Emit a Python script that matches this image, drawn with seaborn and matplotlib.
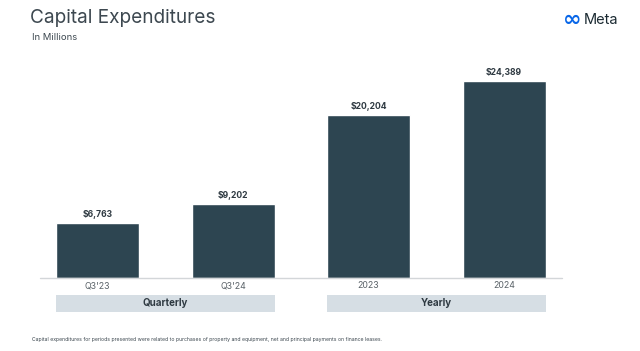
from __future__ import annotations

import matplotlib
matplotlib.use("Agg")
import matplotlib.pyplot as plt
import matplotlib.transforms as mtransforms
from matplotlib.patches import Rectangle
import seaborn as sns

categories = ["Q3'23", "Q3'24", "2023", "2024"]
capex = [6763, 9202, 20204, 24389]
value_labels = ["$6,763", "$9,202", "$20,204", "$24,389"]
groups = [("Quarterly", 0, 1), ("Yearly", 2, 3)]

W, H = 640, 351
BAR_COLOR = "#2d4551"
TEXT_DARK = "#2f3a42"
BAND_COLOR = "#d6dee4"


def fy(py: float) -> float:
    return 1 - py / H


def main() -> None:
    sns.set_theme(style="white")
    plt.rcParams["font.family"] = ["Inter", "DejaVu Sans"]

    fig = plt.figure(figsize=(W / 100, H / 100), dpi=100)
    fig.patch.set_facecolor("white")

    # axes span whole width; baseline sits at y=278 px
    ax = fig.add_axes([0, fy(278), 1, 278 / H])
    bar_w = 83 / 135.5
    sns.barplot(x=categories, y=capex, color=BAR_COLOR, saturation=1, width=bar_w, ax=ax)
    ax.set_xlim(-97.5 / 135.5, (W - 97.5) / 135.5)
    ax.set_ylim(0, 278 * 123.95)
    for s in ax.spines.values():
        s.set_visible(False)
    ax.set_yticks([])
    ax.set_xlabel("")
    ax.set_ylabel("")
    ax.tick_params(axis="x", length=0, pad=2.5, labelsize=6.3, labelcolor="#5a6268")
    ax.patch.set_alpha(0)

    x0 = -0.5 - 16 / 135.5 + (1 - bar_w) / 2
    x1 = 3.5 + 16 / 135.5 - (1 - bar_w) / 2
    ax.plot([x0, x1], [0, 0], color="#d3d6d9", lw=1, clip_on=False)

    for i, (v, lab) in enumerate(zip(capex, value_labels)):
        ax.annotate(lab, (i, v), xytext=(0, 3), textcoords="offset points",
                    ha="center", va="bottom", fontsize=6.2, fontweight="bold", color=TEXT_DARK)

    trans = mtransforms.blended_transform_factory(ax.transData, fig.transFigure)
    for name, a, b in groups:
        left = a - bar_w / 2
        right = b + bar_w / 2
        ax.add_patch(Rectangle((left, fy(312)), right - left, 17 / H, transform=trans,
                               facecolor=BAND_COLOR, edgecolor="none", clip_on=False))
        ax.text((left + right) / 2, fy(303.5), name, transform=trans, ha="center", va="center",
                fontsize=7, fontweight="bold", color=TEXT_DARK)

    fig.text(30 / W, fy(18), "Capital Expenditures", fontsize=13.7, color="#3d4850",
             ha="left", va="center")
    fig.text(32 / W, fy(37.5), "In Millions", fontsize=6.8, color="#3d4850",
             ha="left", va="center")
    fig.text(563 / W, fy(20), "\u221e", family="DejaVu Sans", fontsize=16, fontweight="bold",
             color="#0866e8", ha="left", va="center")
    fig.text(584 / W, fy(20.5), "Meta", fontsize=10.5, color="#1c2b33", ha="left", va="center")
    fig.text(32 / W, fy(339), "Capital expenditures for periods presented were related to purchases "
             "of property and equipment, net and principal payments on finance leases.",
             fontsize=3.7, color="#3d4850", ha="left", va="center")

    fig.savefig("out.png", dpi=100)
    plt.close(fig)


if __name__ == "__main__":
    main()
